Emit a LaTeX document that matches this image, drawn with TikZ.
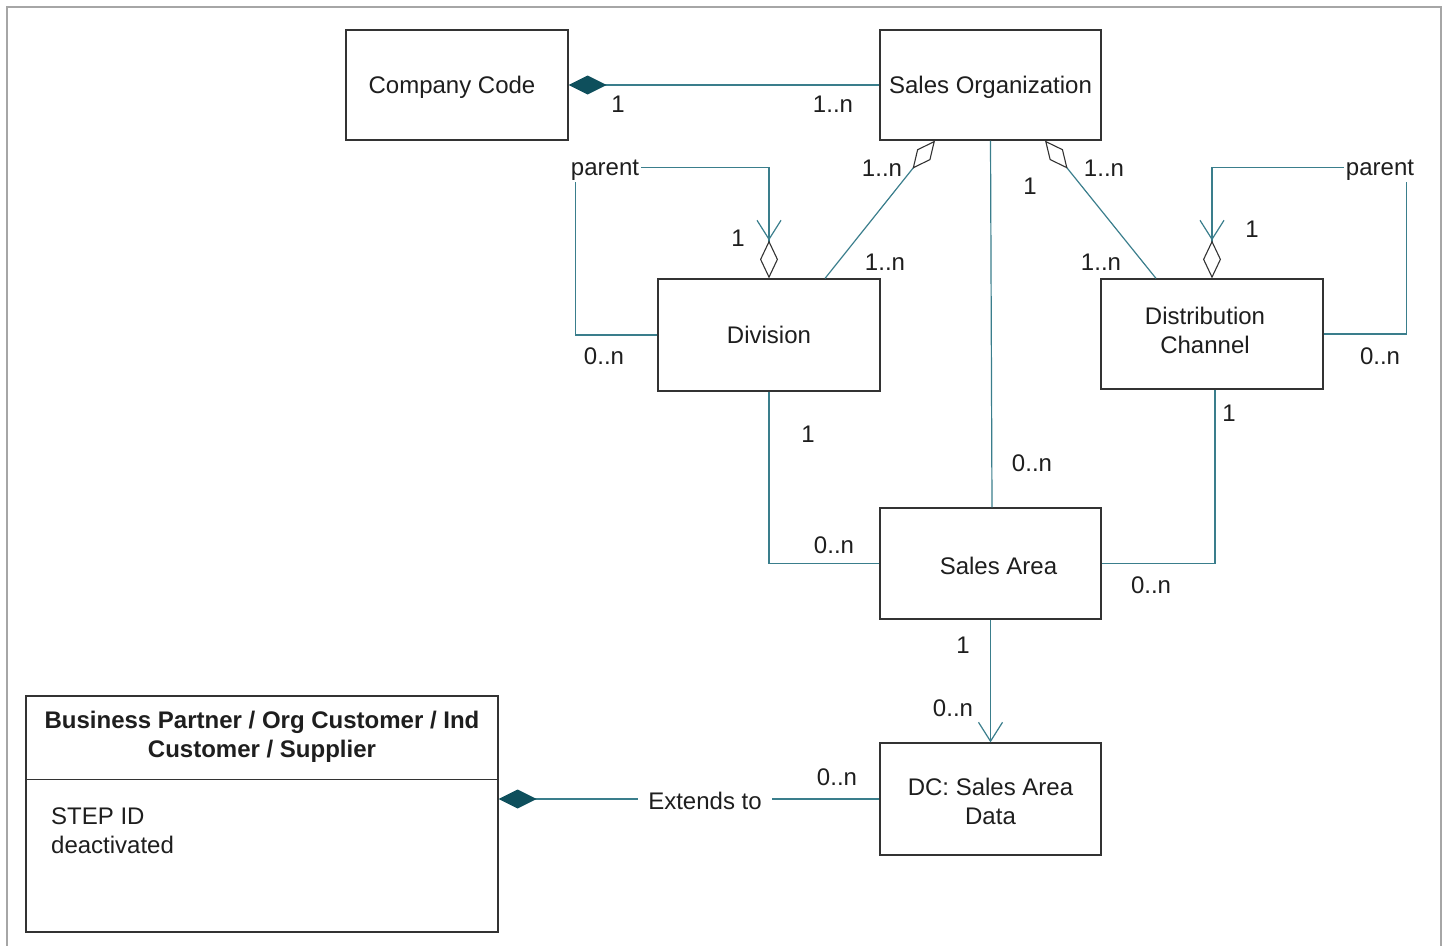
\documentclass[tikz,border=0pt]{standalone}
\usepackage{fontspec}
\setmainfont{Liberation Sans}
\usepackage{tikz}
\usetikzlibrary{arrows.meta,calc,positioning}
\definecolor{frame}{HTML}{A6A6A6}
\definecolor{boxline}{HTML}{333333}
\definecolor{assoc}{HTML}{3A7E8C}
\definecolor{comp}{HTML}{0E4F5C}
\definecolor{ink}{HTML}{1E1E1E}

\begin{document}
\begin{tikzpicture}[x=1pt,y=-1pt,
    every node/.style={font=\fontsize{24}{29}\selectfont,text=ink},
    entity/.style={draw=boxline,line width=1.2pt,fill=white,align=center,inner sep=0pt},
    link/.style={draw=assoc,line width=1.2pt},
    mult/.style={inner sep=1pt},
    compose/.style={{Diamond[length=38pt,width=19pt,color=comp,line width=0pt]}-},
    aggr/.style={{Diamond[open,length=36pt,width=17pt,color=boxline,line width=1.1pt]}-},
    nav/.style={-{Straight Barb[length=19pt,width=24pt,line width=1.2pt]}},
    navaggr/.style={-{Straight Barb[length=19pt,width=24pt,line width=1.2pt]Diamond[open,length=38pt,width=18pt,color=boxline,line width=1.1pt]}}]
  \useasboundingbox (0,0) rectangle (1445,945);
  \draw[frame,line width=2pt] (7,950) -- (7,7) -- (1441,7) -- (1441,950);

  % entities
  \node[entity,minimum width=222,minimum height=110,
        label={[xshift=-5pt,yshift=-2pt,align=center]center:Company Code}] (cc) at (457,85) {};
  \node[entity,minimum width=221,minimum height=110,text depth=0pt] (so)  at (990.5,85)  {Sales Organization};
  \node[entity,minimum width=222,minimum height=112,text depth=0pt] (div) at (769,335)   {Division};
  \node[entity,minimum width=222,minimum height=110,
        label={[xshift=-7pt,yshift=4pt,align=center]center:Distribution\\Channel}] (dch) at (1212,334) {};
  \node[entity,minimum width=221,minimum height=111,
        label={[xshift=8pt,yshift=-2pt]center:Sales Area}] (sa) at (990.5,563.5) {};
  \node[entity,minimum width=221,minimum height=112,
        label={[yshift=-2pt,align=center]center:DC: Sales Area\\Data}] (dc) at (990.5,799) {};
  \node[entity,minimum width=472,minimum height=236] (bp)  at (262,814)   {};
  \draw[boxline,line width=1.2pt] ($(bp.north west)+(0,84)$) -- ($(bp.north east)+(0,84)$);
  \node[font=\fontsize{24}{29}\selectfont\bfseries,align=center] (bphead) at (262,737)
    {Business Partner / Org Customer / Ind\\Customer / Supplier};
  \node[anchor=west,align=left,inner sep=0pt] (bpattr) at (51,831) {STEP ID\\deactivated};

  % associations
  \draw[link,compose] (cc.east) -- (so.west);
  \draw[link,aggr] ([xshift=-55.5]so.south) -- ([xshift=56]div.north);
  \draw[link,aggr] ([xshift=54.5]so.south) -- ([xshift=-56]dch.north);
  \draw[link] (so.south) -- ([xshift=1.5]sa.north);
  \draw[link] (div.south) |- (sa.west);
  \draw[link] ([xshift=3]dch.south) |- (sa.east);
  \draw[link,nav] (sa.south) -- (dc.north);
  \draw[link,navaggr] (div.west) -- ++(-82,0) |- ($(div.north)+(0,-111)$) -- (div.north);
  \draw[link,navaggr] (dch.east) -- ++(83,0) |- ($(dch.north)+(0,-111)$) -- (dch.north);
  \draw[link,compose] (bp.east |- dc.west) -- (dc.west);

  % labels
  \node[fill=white,inner sep=2pt] (divpar) at (605,170) {parent};
  \node[fill=white,inner sep=2pt] (dchpar) at (1380,170) {parent};
  \node[fill=white,inner xsep=10pt,inner ysep=2pt] (ext) at (705,801) {Extends to};
  \node[mult] at (618,104) {1};
  \node[mult] at (833,104) {1..n};
  \node[mult] at (882,168) {1..n};
  \node[mult] at (885,262) {1..n};
  \node[mult] at (1104,168) {1..n};
  \node[mult] at (1030,186) {1};
  \node[mult] at (1101,262) {1..n};
  \node[mult] at (738,238) {1};
  \node[mult] at (604,356) {0..n};
  \node[mult] at (1252,229) {1};
  \node[mult] at (1380,356) {0..n};
  \node[mult] at (1032,463) {0..n};
  \node[mult] at (808,434) {1};
  \node[mult] at (834,545) {0..n};
  \node[mult] at (1229,413) {1};
  \node[mult] at (1151,585) {0..n};
  \node[mult] at (963,645) {1};
  \node[mult] at (953,708) {0..n};
  \node[mult] at (837,777) {0..n};
\end{tikzpicture}
\end{document}
